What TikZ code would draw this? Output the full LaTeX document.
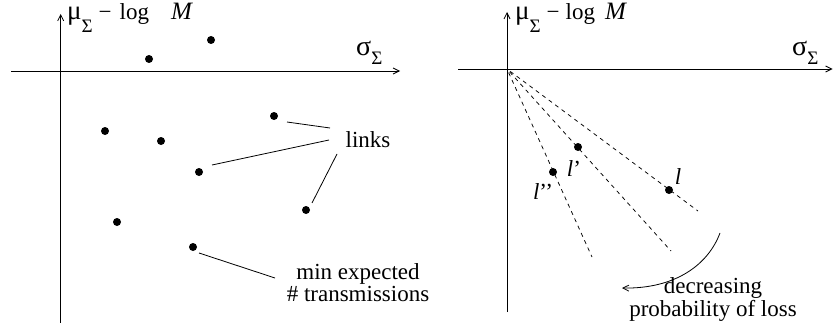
\documentclass[tikz,border=0pt]{standalone}
\usepackage{fontspec}
\setmainfont{Liberation Serif}
\usetikzlibrary{arrows.meta}
\newcommand{\muSub}{\raisebox{-13pt}{\fontsize{19}{19}\selectfont Σ}}
\newcommand{\sigSub}{\raisebox{-9pt}{\fontsize{19}{19}\selectfont Σ}}
\newcommand{\mutxt}{{\fontsize{27}{27}\selectfont μ}}
\newcommand{\Mtxt}{{\fontsize{25}{25}\selectfont\textit{M}}}
\begin{document}
\begin{tikzpicture}[x=1pt,y=1pt,
  axis/.style={line width=0.9pt,-{Straight Barb[length=6pt,width=6pt,line width=0.8pt]}},
  pt/.style={circle,fill=black,inner sep=0pt,minimum size=8pt},
  txt/.style={font=\fontsize{23}{17}\selectfont,inner sep=0pt},
  axlab/.style={font=\fontsize{23}{23}\selectfont,inner sep=0pt,anchor=base west},
  lead/.style={line width=0.8pt},
  ray/.style={line width=0.75pt,dash pattern=on 4pt off 4pt}]
\useasboundingbox (0,0) rectangle (833,-329);
% ---------- left panel ----------
\coordinate (ly0) at (60.7,-322.7);
\coordinate (ly1) at (60.7,-14);
\coordinate (lx0) at (11,-71);
\coordinate (lx1) at (400,-71);
\draw[axis] (ly0) -- (ly1);
\draw[axis] (lx0) -- (lx1);
\node[axlab] (lmu) at (67,-19.5) {\mutxt\muSub\hspace{6pt}−\hspace{8pt}log\hspace{22pt}\Mtxt};
\node[axlab,font=\fontsize{28}{28}\selectfont] (lsig) at (356,-56) {σ\sigSub};
\node[pt] (a1) at (149,-59) {};
\node[pt] (a2) at (211,-40) {};
\node[pt] (a3) at (274,-116) {};
\node[pt] (a4) at (105,-131) {};
\node[pt] (a5) at (161,-141) {};
\node[pt] (a6) at (199,-172) {};
\node[pt] (a7) at (306,-210) {};
\node[pt] (a8) at (117,-222) {};
\node[pt] (a9) at (193,-247) {};
\node[txt,anchor=base] (links) at (368,-147) {links};
\node[txt,align=center,anchor=base] (minexp) at (358,-301) {min expected\\\# transmissions};
\coordinate (k1a) at (287,-122); \coordinate (k1b) at (330,-128);
\coordinate (k2a) at (212,-165); \coordinate (k2b) at (329,-140);
\coordinate (k3a) at (312,-203); \coordinate (k3b) at (337,-154);
\coordinate (m1a) at (199,-253); \coordinate (m1b) at (275,-278);
\draw[lead] (k1a) -- (k1b);
\draw[lead] (k2a) -- (k2b);
\draw[lead] (k3a) -- (k3b);
\draw[lead] (m1a) -- (m1b);
% ---------- right panel ----------
\coordinate (ry0) at (507,-312);
\coordinate (ry1) at (507,-12);
\coordinate (rx0) at (458,-69);
\coordinate (rx1) at (832.5,-69);
\draw[axis] (ry0) -- (ry1);
\draw[axis] (rx0) -- (rx1);
\node[axlab] (rmu) at (515,-19.5) {\mutxt\muSub\hspace{6pt}−\hspace{6pt}log\hspace{10pt}\Mtxt};
\node[axlab,font=\fontsize{28}{28}\selectfont] (rsig) at (792,-56) {σ\sigSub};
\coordinate (o) at (507,-69);
\coordinate (e1) at (698,-211);
\coordinate (e2) at (671,-251);
\coordinate (e3) at (592,-257);
\draw[ray,shorten <=4pt] (o) -- (e1);
\draw[ray,shorten <=4pt] (o) -- (e2);
\draw[ray,shorten <=4pt] (o) -- (e3);
\node[pt] (pl) at (669,-190) {};
\node[pt] (plp) at (578,-147) {};
\node[pt] (plpp) at (553,-172) {};
\node[txt] (tl) at (678,-177) {\textit{l}};
\node[txt] (tlp) at (574,-169) {\textit{l}’};
\node[txt] (tlpp) at (543,-192) {\textit{l}’’};
\coordinate (c0) at (720,-233);
\coordinate (c1) at (622,-288);
\draw[lead,-{Straight Barb[length=6pt,width=6pt,line width=0.8pt]}] (c0) .. controls (708,-265) and (675,-289) .. (c1);
\node[txt,align=center,anchor=base] (dec) at (713,-316) {decreasing\\probability of loss};
\end{tikzpicture}
\end{document}
